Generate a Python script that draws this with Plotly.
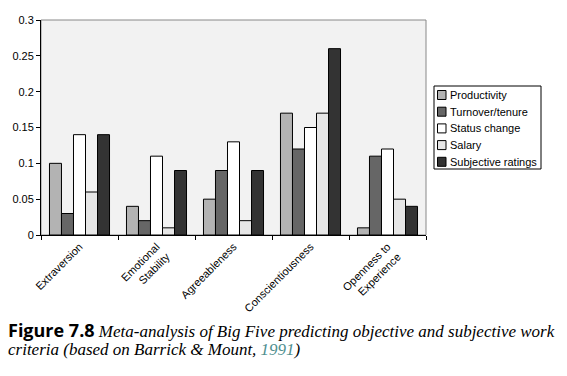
import plotly.graph_objects as go

categories = ["Extraversion", "Emotional<br>Stability", "Agreeableness", "Conscientiousness", "Openness to<br>Experience"]
series_names = ["Productivity", "Turnover/tenure", "Status change", "Salary", "Subjective ratings"]
productivity = [0.10, 0.04, 0.05, 0.17, 0.01]
turnover = [0.03, 0.02, 0.09, 0.12, 0.11]
status_change = [0.14, 0.11, 0.13, 0.15, 0.12]
salary = [0.06, 0.01, 0.02, 0.17, 0.05]
subjective = [0.14, 0.09, 0.09, 0.26, 0.04]
y_ticks = [0, 0.05, 0.1, 0.15, 0.2, 0.25, 0.3]
y_tick_labels = ["0", "0.05", "0.1", "0.15", "0.2", "0.25", "0.3"]

colors = ["#b3b3b3", "#666666", "#ffffff", "#e6e6e6", "#333333"]
values = [productivity, turnover, status_change, salary, subjective]

W, H = 567, 376
ML, MR, MT, MB = 41, 141, 20, 141
PW, PH = W - ML - MR, H - MT - MB


def px(x):
    return (x - ML) / PW


def py(y):
    return (H - MB - y) / PH


fig = go.Figure()
for name, vals, col in zip(series_names, values, colors):
    fig.add_trace(go.Bar(
        x=categories, y=vals, name=name,
        marker=dict(color=col, line=dict(color="black", width=1)),
    ))

shapes = [dict(type="rect", xref="paper", yref="paper", x0=0, x1=1, y0=0, y1=1,
               line=dict(color="#888888", width=1), layer="below")]
annotations = []

# custom legend (box + swatches + labels)
lx0, lx1, ly0, ly1 = 434, 541, 86, 169
shapes.append(dict(type="rect", xref="paper", yref="paper",
                   x0=px(lx0), x1=px(lx1), y0=py(ly0), y1=py(ly1),
                   line=dict(color="black", width=1), fillcolor="white"))
for i, (name, col) in enumerate(zip(series_names, colors)):
    cy = 95 + i * 16.7
    shapes.append(dict(type="rect", xref="paper", yref="paper",
                       x0=px(437.5), x1=px(446), y0=py(cy - 4.5), y1=py(cy + 4.5),
                       line=dict(color="black", width=1), fillcolor=col))
    annotations.append(dict(xref="paper", yref="paper", x=px(447.5), y=py(cy),
                            xanchor="left", yanchor="middle", showarrow=False,
                            text=name, font=dict(size=11, color="black")))

annotations.append(dict(
    xref="paper", yref="paper", x=px(6), y=py(330), xanchor="left", yanchor="middle",
    showarrow=False, align="left",
    text="<b><span style='font-family:Open Sans, Liberation Sans, sans-serif;font-size:18px'>Figure 7.8</span></b> "
         "<i>Meta-analysis of Big Five predicting objective and subjective work</i>",
    font=dict(family="Liberation Serif, serif", size=17, color="black"),
))
annotations.append(dict(
    xref="paper", yref="paper", x=px(6), y=py(349), xanchor="left", yanchor="middle",
    showarrow=False, align="left",
    text="<i>criteria (based on Barrick &amp; Mount, <span style='color:#4f8f8f'>1991</span>)</i>",
    font=dict(family="Liberation Serif, serif", size=17, color="black"),
))

fig.update_layout(
    width=W, height=H,
    margin=dict(l=ML, r=MR, t=MT, b=MB, autoexpand=False),
    paper_bgcolor="white",
    plot_bgcolor="#f2f2f2",
    barmode="group",
    bargap=0.22,
    bargroupgap=0,
    font=dict(family="Liberation Sans, Arial, sans-serif", size=11, color="black"),
    showlegend=False,
    shapes=shapes,
    annotations=annotations,
)
fig.update_xaxes(
    type="category", tickangle=-45, tickson="boundaries", automargin=False,
    ticks="outside", ticklen=4, tickcolor="black",
    showline=True, linecolor="black", linewidth=1, showgrid=False,
    tickfont=dict(size=11),
)
fig.update_yaxes(
    range=[0, 0.3], tickvals=y_ticks, ticktext=y_tick_labels, automargin=False,
    ticks="outside", ticklen=4, tickcolor="black",
    showline=True, linecolor="black", linewidth=1, showgrid=False,
    zeroline=False, tickfont=dict(size=11),
)

fig.write_html("out.html", config={"displayModeBar": False},
               post_script="document.body.style.margin='0px';")
